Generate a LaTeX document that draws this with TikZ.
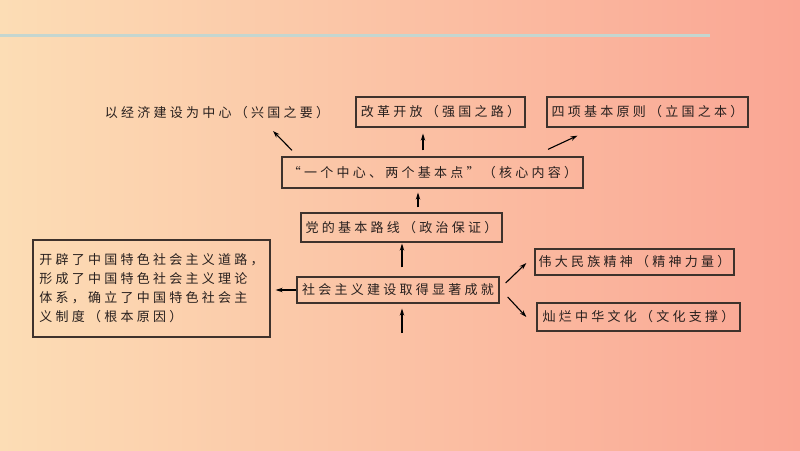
\documentclass[tikz,border=0pt]{standalone}
\usepackage{fontspec}
\usetikzlibrary{arrows.meta,calc}
\newfontfamily\cjk{Noto Sans CJK SC}[LetterSpace=25]
\definecolor{bgl}{RGB}{252,221,181}
\definecolor{bgm}{RGB}{251,200,168}
\definecolor{bgr}{RGB}{250,166,148}
\definecolor{rulec}{RGB}{196,214,208}
\definecolor{boxc}{RGB}{62,50,44}
\definecolor{txt}{RGB}{40,32,30}
\begin{document}
\begin{tikzpicture}[x=1pt,y=-1pt,
  lbl/.style={inner sep=0pt, font=\cjk\fontsize{13}{19}\selectfont, text=txt},
  box/.style={lbl, draw=boxc, line width=1.3pt},
  arr/.style={draw=black, line width=1.1pt, -{Stealth[length=7pt,width=4.5pt]}}]
\useasboundingbox (0,0) rectangle (800,450);
\shade[left color=bgl, middle color=bgm, right color=bgr] (0,0) rectangle (800,450);
\draw[rulec, line width=3pt] (0,35) -- (710,35);

\node[lbl] (t1) at (217,113) {以经济建设为中心（兴国之要）};
\node[box, minimum width=169pt, minimum height=30pt] (b2) at (440.5,112) {改革开放（强国之路）};
\node[box, minimum width=201pt, minimum height=30pt] (b3) at (647.5,112) {四项基本原则（立国之本）};
\node[box, minimum width=301pt, minimum height=31pt] (b4) at (432.5,172.5) {“一个中心、两个基本点”（核心内容）};
\node[box, minimum width=201pt, minimum height=29pt] (b5) at (401.5,227.5) {党的基本路线（政治保证）};
\node[box, minimum width=202pt, minimum height=26pt] (b6) at (398,290) {社会主义建设取得显著成就};
\node[box, minimum width=237pt, minimum height=97pt, align=left] (b7) at (151.5,288.5)
  {开辟了中国特色社会主义道路，\\形成了中国特色社会主义理论\\体系，确立了中国特色社会主\\义制度（根本原因）};
\node[box, minimum width=199pt, minimum height=26pt] (b8) at (634.5,262) {伟大民族精神（精神力量）};
\node[box, minimum width=203pt, minimum height=28pt] (b9) at (638.5,317) {灿烂中华文化（文化支撑）};
\coordinate (src) at (402,333);

\draw[arr] ($(b4.north)+(-140.5,-6)$) -- ($(t1)+(56,18)$);
\draw[arr] ($(b4.north)+(-9.5,-6)$) -- ($(b2.south)+(-17.5,6)$);
\draw[arr] ($(b4.north)+(115.5,-7)$) -- ($(b3.south)+(-70,8)$);
\draw[arr] ($(b5.north)+(16.5,-5)$) -- ($(b4.south)+(-14.5,4)$);
\draw[arr] ($(b6.north)+(4,-9)$) -- ($(b5.south)+(0.5,1)$);
\draw[arr] (src) -- ($(b6.south)+(4,5)$);
\draw[arr] (b6.west) -- ($(b7.east)+(5,1.5)$);
\draw[arr] ($(b6.east)+(6,-7)$) -- ($(b8.west)+(-8,1)$);
\draw[arr] ($(b6.east)+(8,7)$) -- ($(b9.west)+(-10,0)$);
\end{tikzpicture}
\end{document}
